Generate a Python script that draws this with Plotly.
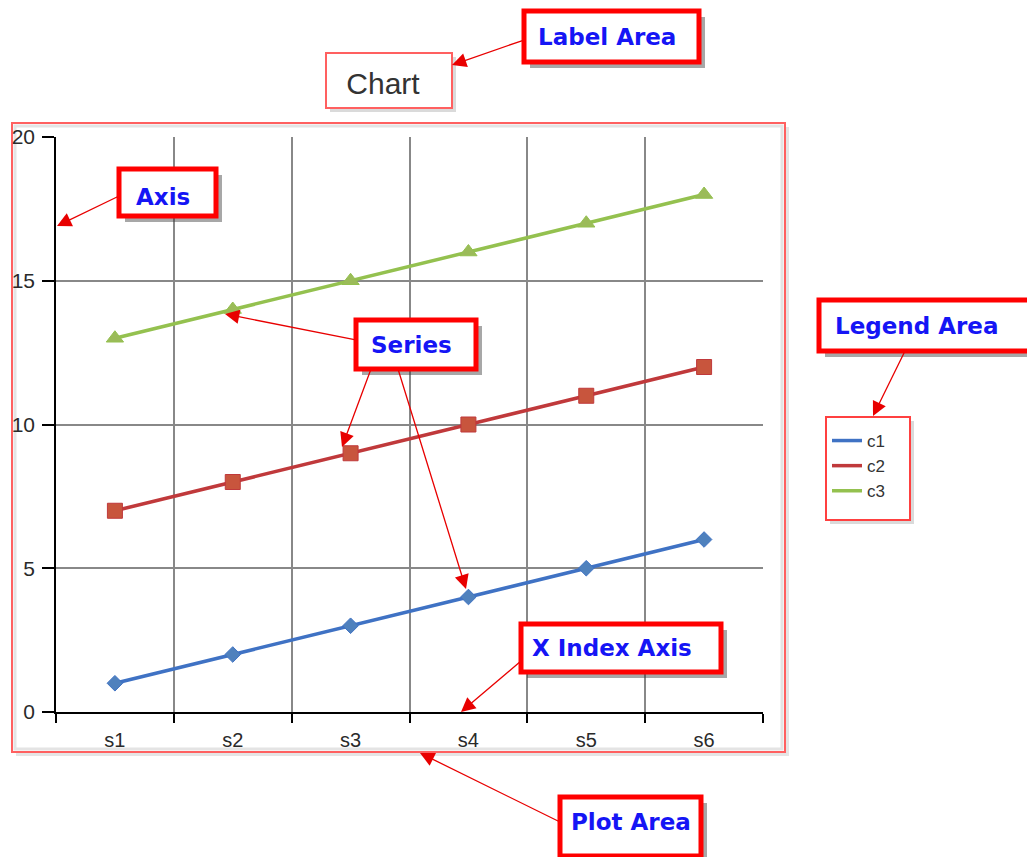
import plotly.graph_objects as go

W, H = 1027, 857

categories = ["s1", "s2", "s3", "s4", "s5", "s6"]
c1 = [1, 2, 3, 4, 5, 6]
c2 = [7, 8, 9, 10, 11, 12]
c3 = [13, 14, 15, 16, 17, 18]
series_names = ["c1", "c2", "c3"]
y_ticks = [0, 5, 10, 15, 20]

line_colors = ["#3f72c4", "#c0393b", "#94c14f"]
marker_colors = ["#4f81bd", "#c8553d", "#9bbb59"]
marker_symbols = ["diamond", "square", "triangle-up"]
marker_sizes = [12, 15, 15]


def px(x):
    return x / W


def py(y):
    return 1 - y / H


xpos = [i + 0.5 for i in range(len(categories))]

fig = go.Figure()
for name, vals, lc, mc, sym, ms in zip(series_names, [c1, c2, c3], line_colors,
                                       marker_colors, marker_symbols, marker_sizes):
    fig.add_trace(go.Scatter(
        x=xpos, y=vals, mode="lines+markers", name=name, showlegend=False,
        line=dict(color=lc, width=3.5),
        marker=dict(symbol=sym, size=ms, color=mc, line=dict(color=lc, width=1)),
    ))
    # legend-only entry (line sample only)
    fig.add_trace(go.Scatter(
        x=[None], y=[None], mode="lines", name=name, showlegend=True,
        line=dict(color=lc, width=3.5),
    ))

shapes = []


def box(x0, y0, x1, y1, color, width, shadow=5, shadow_col="rgba(70,70,70,0.35)", fill="white", layer="above"):
    if shadow:
        shapes.append(dict(type="rect", xref="paper", yref="paper", layer=layer,
                           x0=px(x0 + shadow), x1=px(x1 + shadow), y0=py(y0 + shadow), y1=py(y1 + shadow),
                           line=dict(width=0), fillcolor=shadow_col))
    shapes.append(dict(type="rect", xref="paper", yref="paper", layer=layer,
                       x0=px(x0), x1=px(x1), y0=py(y0), y1=py(y1),
                       line=dict(color=color, width=width), fillcolor=fill))


# Plot area outer box
shapes.append(dict(type="rect", xref="paper", yref="paper", layer="below",
                   x0=px(16), x1=px(789), y0=py(127), y1=py(756),
                   line=dict(width=0), fillcolor="rgba(180,180,180,0.35)"))
shapes.append(dict(type="rect", xref="paper", yref="paper", layer="below",
                   x0=px(12), x1=px(785), y0=py(123), y1=py(752),
                   line=dict(color="#ff6060", width=2), fillcolor="white"))
shapes.append(dict(type="rect", xref="paper", yref="paper", layer="below",
                   x0=px(15), x1=px(782), y0=py(126), y1=py(749),
                   line=dict(color="#e4e4e4", width=3), fillcolor="rgba(0,0,0,0)"))

# Title box
box(326, 53, 452, 108, "#ff6060", 2, shadow=4, shadow_col="rgba(150,150,150,0.35)")
# Legend box
box(826, 417, 910, 520, "#ff4040", 2, shadow=4, shadow_col="rgba(150,150,150,0.35)")

# Callout boxes
callouts = [
    ("Label Area", 524, 11, 699, 62),
    ("Axis", 119, 169, 216, 216),
    ("Series", 356, 320, 476, 369),
    ("Legend Area", 819, 300, 1030, 351),
    ("X Index Axis", 521, 624, 721, 672),
    ("Plot Area", 560, 797, 701, 856),
]
for _, x0, y0, x1, y1 in callouts:
    box(x0, y0, x1, y1, "#ff0000", 5, shadow=6, shadow_col="rgba(60,60,60,0.45)")

annotations = []
text_pos = {
    "Label Area": (607, 37),
    "Axis": (163, 197),
    "Series": (411, 345),
    "Legend Area": (916, 326),
    "X Index Axis": (612, 648),
    "Plot Area": (631, 822),
}
for label, *_ in callouts:
    tx, ty = text_pos[label]
    annotations.append(dict(text="<b>%s</b>" % label, x=px(tx), y=py(ty), xref="paper", yref="paper",
                            xanchor="center", yanchor="middle", showarrow=False,
                            font=dict(family="DejaVu Sans", size=23, color="#1515f5")))

# Arrows: (head x, head y, tail x, tail y)
arrows = [
    (452, 65, 524, 40),
    (57, 226, 119, 196),
    (225, 314, 356, 340),
    (342, 447, 371, 369),
    (466, 589, 398, 369),
    (461, 712, 521, 661),
    (420, 753, 560, 822),
    (873, 416, 905, 351),
]
for hx, hy, tx, ty in arrows:
    annotations.append(dict(text="", x=px(hx), y=py(hy), xref="paper", yref="paper",
                            ax=tx - hx, ay=ty - hy, axref="pixel", ayref="pixel",
                            showarrow=True, arrowhead=2, arrowsize=2.2, arrowwidth=1.3,
                            arrowcolor="#e80000", standoff=0, startstandoff=0))

fig.update_layout(
    width=W, height=H,
    margin=dict(l=0, r=0, t=0, b=0, autoexpand=False),
    paper_bgcolor="white",
    plot_bgcolor="rgba(0,0,0,0)",
    font=dict(family="Liberation Sans, Arial", color="#333333"),
    title=dict(text="Chart", x=px(383), y=py(83), xref="paper", yref="paper",
               xanchor="center", yanchor="middle", automargin=False,
               font=dict(family="Liberation Sans, Arial", size=30, color="#333333")),
    xaxis=dict(domain=[px(56), px(763)], range=[0, 6], fixedrange=True, automargin=False,
               tickvals=xpos, ticktext=categories, ticks="outside", ticklen=9,
               tickcolor="rgba(0,0,0,0)", ticklabelstandoff=0,
               tickfont=dict(size=20, color="#2a2a2a"),
               showgrid=False, zeroline=False,
               showline=True, linecolor="black", linewidth=1.5,
               minor=dict(tickvals=list(range(0, 7)), ticks="outside", ticklen=9,
                          tickcolor="black", tickwidth=1.5,
                          showgrid=True, gridcolor="#888888", gridwidth=1.6)),
    yaxis=dict(domain=[py(712), py(137)], range=[0, 20], fixedrange=True, automargin=False,
               tickvals=y_ticks, ticks="outside", ticklen=12, tickcolor="black", tickwidth=1.5,
               ticklabelstandoff=3,
               tickfont=dict(size=21, color="#2a2a2a"),
               showgrid=True, gridcolor="#888888", gridwidth=1.6, zeroline=False,
               showline=True, linecolor="black", linewidth=1.5),
    legend=dict(x=px(827), y=py(423), xanchor="left", yanchor="top",
                bgcolor="rgba(0,0,0,0)", borderwidth=0, itemwidth=30,
                font=dict(family="Liberation Sans, Arial", size=17, color="#333333"),
                tracegroupgap=0, itemclick=False),
    shapes=shapes,
    annotations=annotations,
)

fig.write_html("out.html")
